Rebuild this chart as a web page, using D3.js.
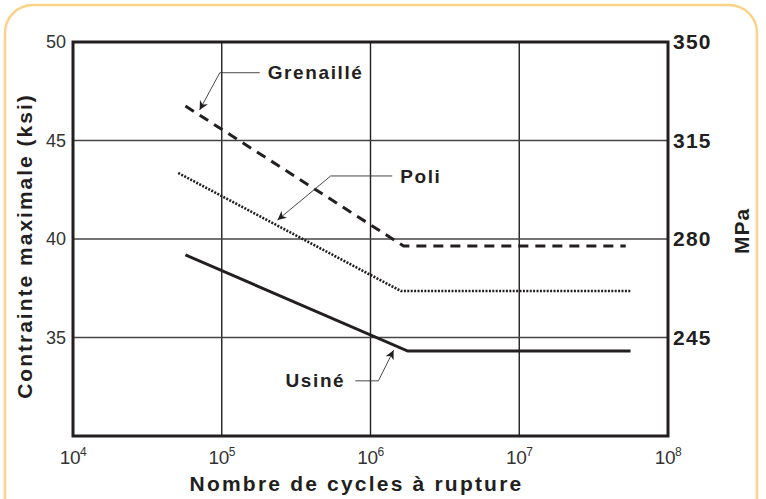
<!DOCTYPE html>
<html>
<head>
<meta charset="utf-8">
<script src="https://cdn.jsdelivr.net/npm/d3@7"></script>
<style>
  body { margin: 0; background: #fff; }
  svg { display: block; }
</style>
</head>
<body>
<script>
// données (cycles, ksi)
var grenailleN = [5.7e4, 1.67e6, 5.2e7];
var grenailleS = [46.75, 39.64, 39.64];
var poliN = [5.1e4, 1.6e6, 5.6e7];
var poliS = [43.35, 37.36, 37.36];
var usineN = [5.7e4, 1.78e6, 5.6e7];
var usineS = [39.19, 34.31, 34.31];

var xTicks = [4, 5, 6, 7, 8];          // exposants 10^n
var ksiTicks = [50, 45, 40, 35];
var mpaTicks = [350, 315, 280, 245];

// annotations : texte, pointe, coude, départ (cycles, ksi)
var labelText = ['Grenaillé', 'Poli', 'Usiné'];
var labelTip = [[7.1e4, 46.55], [2.37e5, 40.96], [1.43e6, 34.35]];
var labelElbow = [[9.7e4, 48.44], [5.4e5, 43.2], [1.13e6, 32.8]];
var labelStart = [[1.8e5, 48.44], [1.4e6, 43.2], [7.9e5, 32.8]];

var W = 766, H = 499;
var plot = { left: 73, right: 668, top: 42, bottom: 436 };

var svg = d3.select('body').append('svg')
    .attr('width', W)
    .attr('height', H);

// cadre arrondi orange
svg.append('rect')
    .attr('x', 5).attr('y', 5)
    .attr('width', 752).attr('height', 540)
    .attr('rx', 28).attr('ry', 28)
    .attr('fill', 'none')
    .attr('stroke', '#fcd286')
    .attr('stroke-width', 2.5);

var x = d3.scaleLog().domain([1e4, 1e8]).range([plot.left, plot.right]);
var y = d3.scaleLinear().domain([30, 50]).range([plot.bottom, plot.top]);
var yR = d3.scaleLinear().domain([210, 350]).range([plot.bottom, plot.top]);

var ink = '#231f20';
var font = 'Liberation Sans, Arial, sans-serif';

// grille
svg.append('g').selectAll('line.v')
    .data(xTicks.slice(1, -1))
    .enter().append('line')
    .attr('x1', function (d) { return x(Math.pow(10, d)); })
    .attr('x2', function (d) { return x(Math.pow(10, d)); })
    .attr('y1', plot.top).attr('y2', plot.bottom)
    .attr('stroke', ink).attr('stroke-width', 1.4);

svg.append('g').selectAll('line.h')
    .data(ksiTicks.slice(1))
    .enter().append('line')
    .attr('x1', plot.left).attr('x2', plot.right)
    .attr('y1', function (d) { return y(d); })
    .attr('y2', function (d) { return y(d); })
    .attr('stroke', '#444').attr('stroke-width', 1.4);

// bordure du graphique
svg.append('rect')
    .attr('x', plot.left).attr('y', plot.top)
    .attr('width', plot.right - plot.left)
    .attr('height', plot.bottom - plot.top)
    .attr('fill', 'none')
    .attr('stroke', ink)
    .attr('stroke-width', 3);

// courbes
var line = d3.line()
    .x(function (d) { return x(d[0]); })
    .y(function (d) { return y(d[1]); });

var series = [
    { n: grenailleN, s: grenailleS, dash: '10,7', w: 3 },
    { n: poliN, s: poliS, dash: '2,1.4', w: 2.6 },
    { n: usineN, s: usineS, dash: null, w: 3 }
];

series.forEach(function (sr) {
    var pts = sr.n.map(function (v, i) { return [v, sr.s[i]]; });
    svg.append('path')
        .attr('d', line(pts))
        .attr('fill', 'none')
        .attr('stroke', ink)
        .attr('stroke-width', sr.w)
        .attr('stroke-dasharray', sr.dash);
});

// flèches
svg.append('defs').append('marker')
    .attr('id', 'arrow')
    .attr('viewBox', '0 0 10 10')
    .attr('refX', 10).attr('refY', 5)
    .attr('markerWidth', 9).attr('markerHeight', 9)
    .attr('markerUnits', 'userSpaceOnUse')
    .attr('orient', 'auto')
    .append('path')
    .attr('d', 'M0,0 L10,5 L0,10 L3,5 Z')
    .attr('fill', ink);

labelText.forEach(function (t, i) {
    var pts = [labelStart[i], labelElbow[i], labelTip[i]];
    svg.append('path')
        .attr('d', line(pts))
        .attr('fill', 'none')
        .attr('stroke', '#333')
        .attr('stroke-width', 0.9)
        .attr('marker-end', 'url(#arrow)');
    var sx = x(labelStart[i][0]);
    var right = labelStart[i][0] > labelElbow[i][0];
    svg.append('text')
        .attr('x', right ? sx + 8 : sx - 10)
        .attr('y', y(labelStart[i][1]))
        .attr('dy', '0.35em')
        .attr('text-anchor', right ? 'start' : 'end')
        .attr('font-family', font)
        .attr('font-weight', 'bold')
        .attr('font-size', 19)
        .attr('letter-spacing', 1.6)
        .attr('fill', ink)
        .text(t);
});

// axe gauche
svg.append('g').selectAll('text')
    .data(ksiTicks)
    .enter().append('text')
    .attr('x', plot.left - 7)
    .attr('y', function (d) { return y(d); })
    .attr('dy', '0.35em')
    .attr('text-anchor', 'end')
    .attr('font-family', font)
    .attr('font-size', 18)
    .attr('fill', '#333')
    .text(function (d) { return d; });

// axe droit
svg.append('g').selectAll('text')
    .data(mpaTicks)
    .enter().append('text')
    .attr('x', plot.right + 5)
    .attr('y', function (d) { return yR(d); })
    .attr('dy', '0.35em')
    .attr('font-family', font)
    .attr('font-weight', 'bold')
    .attr('font-size', 21)
    .attr('letter-spacing', 1.2)
    .attr('fill', ink)
    .text(function (d) { return d; });

// axe x : 10^n
var xt = svg.append('g').selectAll('text')
    .data(xTicks)
    .enter().append('text')
    .attr('x', function (d) { return x(Math.pow(10, d)); })
    .attr('y', plot.bottom + 28)
    .attr('text-anchor', 'middle')
    .attr('font-family', font)
    .attr('font-size', 19)
    .attr('letter-spacing', -0.5)
    .attr('fill', '#333');
xt.append('tspan').text('10');
xt.append('tspan')
    .attr('font-size', 12)
    .attr('dy', -8)
    .text(function (d) { return d; });

// titres
svg.append('text')
    .attr('x', (plot.left + plot.right) / 2 - 14)
    .attr('y', 491)
    .attr('text-anchor', 'middle')
    .attr('font-family', font)
    .attr('font-weight', 'bold')
    .attr('font-size', 21)
    .attr('letter-spacing', 2.2)
    .attr('fill', ink)
    .text('Nombre de cycles à rupture');

svg.append('text')
    .attr('transform', 'translate(32,246) rotate(-90)')
    .attr('text-anchor', 'middle')
    .attr('font-family', font)
    .attr('font-weight', 'bold')
    .attr('font-size', 21)
    .attr('letter-spacing', 2)
    .attr('fill', ink)
    .text('Contrainte maximale (ksi)');

svg.append('text')
    .attr('transform', 'translate(749,231) rotate(-90)')
    .attr('text-anchor', 'middle')
    .attr('font-family', font)
    .attr('font-weight', 'bold')
    .attr('font-size', 21)
    .attr('letter-spacing', 1)
    .attr('fill', ink)
    .text('MPa');
</script>
</body>
</html>
